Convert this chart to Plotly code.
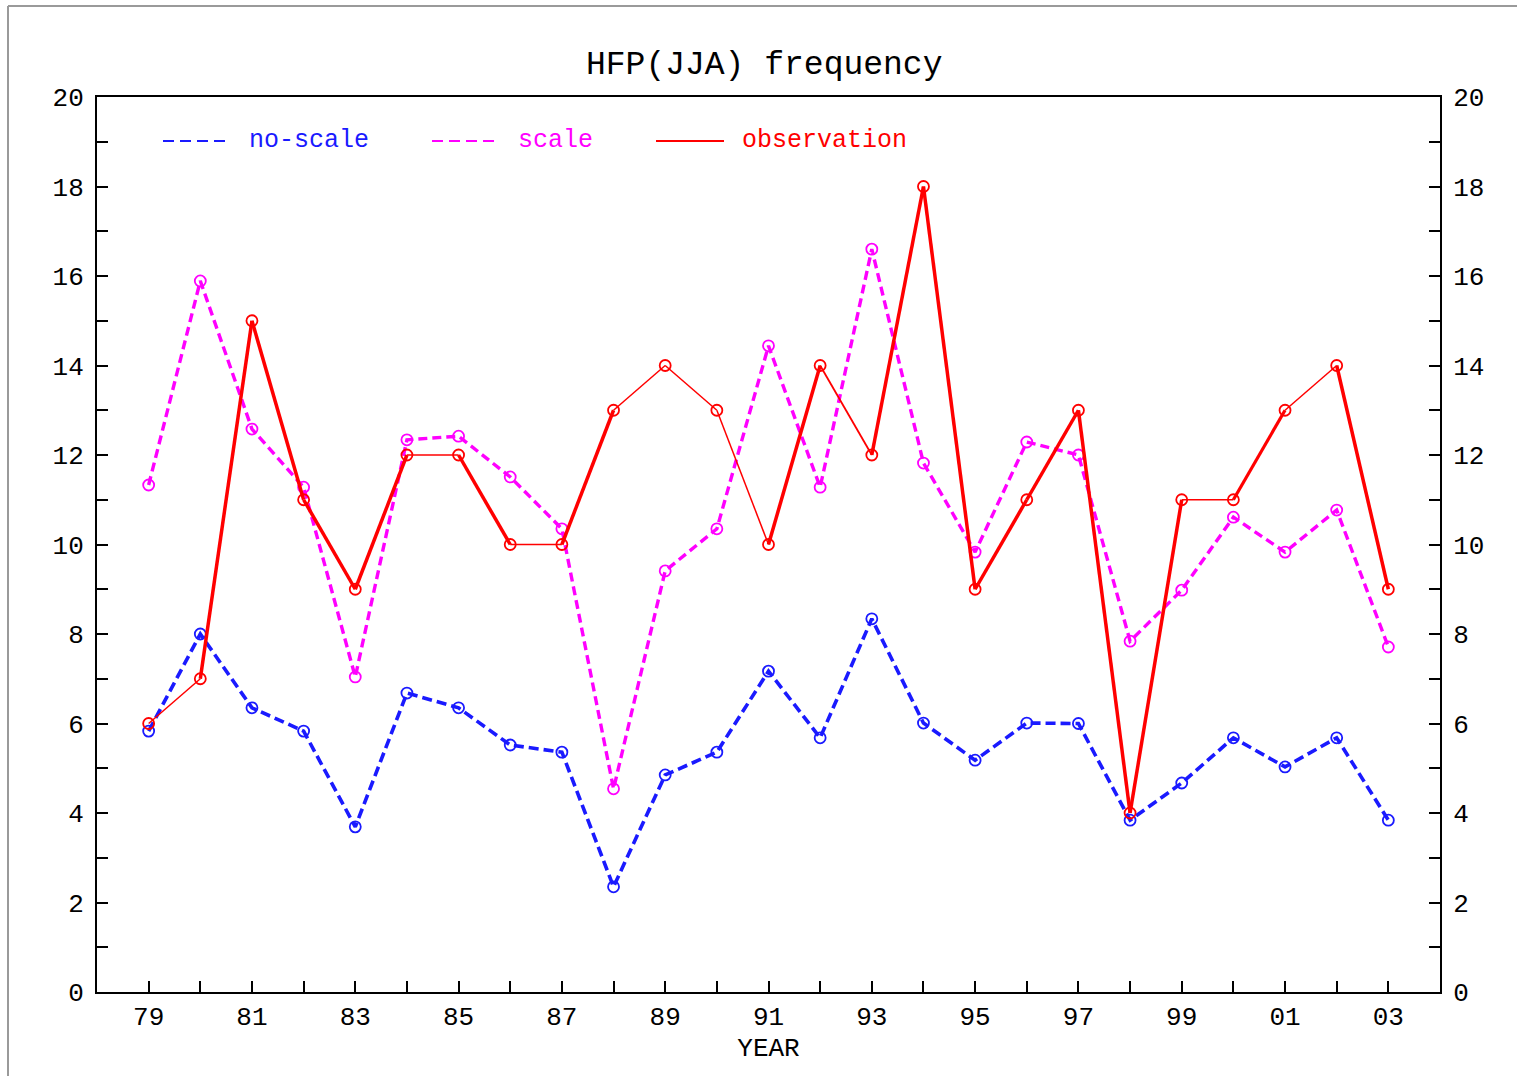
import plotly.graph_objects as go

years = list(range(1979, 2004))
year_labels = ["79", "81", "83", "85", "87", "89", "91", "93", "95", "97", "99", "01", "03"]
label_years = list(range(1979, 2004, 2))

no_scale = [5.83, 8.0, 6.35, 5.83, 3.69, 6.68, 6.35, 5.52, 5.36, 2.35, 4.85, 5.36, 7.17,
            5.68, 8.34, 6.01, 5.18, 6.01, 6.0, 3.84, 4.67, 5.68, 5.03, 5.68, 3.84]
scale = [11.33, 15.89, 12.58, 11.28, 7.04, 12.34, 12.42, 11.51, 10.35, 4.54, 9.41, 10.35, 14.44,
         11.28, 16.6, 11.82, 9.83, 12.29, 12.0, 7.84, 8.98, 10.61, 9.83, 10.77, 7.71]
observation = [6, 7, 15, 11, 9, 12, 12, 10, 10, 13, 14, 13, 10,
               14, 12, 18, 9, 11, 13, 4, 11, 11, 13, 14, 9]

# style: drawn width of each observation segment (thin / thick as in the source plot)
obs_seg_width = [1.5, 3.5, 3.5, 3.5, 3.5, 1.5, 3.5, 1.5, 3.5, 1.5, 1.5, 1.5,
                 3.5, 1.8, 3.5, 3.5, 3.5, 3.5, 3.5, 3.5, 1.5, 3.2, 1.5, 3.5]

BLUE = "#1a1aff"
MAG = "#ff00ff"
RED = "#ff0000"
FONT = "Liberation Mono"

fig = go.Figure()

fig.add_trace(go.Scatter(
    x=years, y=no_scale, mode="lines+markers", showlegend=False,
    line=dict(color=BLUE, width=3.6, dash="10px,5px"),
    marker=dict(symbol="circle-open", size=11, color=BLUE, line=dict(width=1.8, color=BLUE)),
))
fig.add_trace(go.Scatter(
    x=years, y=scale, mode="lines+markers", showlegend=False,
    line=dict(color=MAG, width=3.4, dash="9px,5px"),
    marker=dict(symbol="circle-open", size=11, color=MAG, line=dict(width=1.8, color=MAG)),
))
for i in range(len(years) - 1):
    fig.add_trace(go.Scatter(
        x=years[i:i + 2], y=observation[i:i + 2], mode="lines", showlegend=False,
        line=dict(color=RED, width=obs_seg_width[i]),
    ))
fig.add_trace(go.Scatter(
    x=years, y=observation, mode="markers", showlegend=False,
    marker=dict(symbol="circle-open", size=11, color=RED, line=dict(width=1.8, color=RED)),
))
# invisible trace to anchor the right-hand axis
fig.add_trace(go.Scatter(x=years, y=observation, yaxis="y2", mode="markers",
                         marker=dict(opacity=0), showlegend=False, hoverinfo="skip"))

W, H = 1517, 1076
L, R, T, B = 97, 1440, 97, 992


def px(xp):
    return (xp - L) / (R - L)


def py(yp):
    return (B - yp) / (B - T)


# legend drawn manually (line samples + coloured labels)
legend_items = [
    (163, 230, 247, "no-scale", BLUE, "11px,6px"),
    (432, 500, 516, "scale", MAG, "11px,6px"),
    (656, 724, 740, "observation", RED, "solid"),
]
shapes = []
annotations = []
for x0, x1, xt, txt, col, dash in legend_items:
    shapes.append(dict(type="line", xref="paper", yref="paper",
                       x0=px(x0), x1=px(x1), y0=py(141), y1=py(141),
                       line=dict(color=col, width=2, dash=dash)))
    annotations.append(dict(xref="paper", yref="paper", x=px(xt), y=py(141),
                            xanchor="left", yanchor="middle", showarrow=False,
                            text=txt, font=dict(family=FONT, size=25, color=col)))

# outer grey frame (left and top edges)
shapes.append(dict(type="line", xref="paper", yref="paper",
                   x0=px(8), x1=px(8), y0=py(6), y1=py(1076),
                   line=dict(color="#9a9a9a", width=2)))
shapes.append(dict(type="line", xref="paper", yref="paper",
                   x0=px(8), x1=px(1517), y0=py(6), y1=py(6),
                   line=dict(color="#9a9a9a", width=2)))

annotations.append(dict(xref="paper", yref="paper", x=px(764), y=py(65),
                        xanchor="center", yanchor="middle", showarrow=False,
                        text="HFP(JJA) frequency",
                        font=dict(family=FONT, size=33, color="#000000")))

fig.update_layout(
    width=W, height=H,
    margin=dict(l=L, r=W - R, t=T, b=H - B, pad=0),
    paper_bgcolor="white", plot_bgcolor="white",
    showlegend=False,
    font=dict(family=FONT, size=26, color="#000000"),
    xaxis=dict(
        range=[1978, 2004], showgrid=False, zeroline=False,
        showline=True, linecolor="#000000", linewidth=2, mirror=True,
        ticks="inside", ticklen=11, tickwidth=2, tickcolor="#000000",
        tickmode="array", tickvals=label_years, ticktext=year_labels,
        minor=dict(tickmode="array", tickvals=years, ticks="inside", ticklen=11,
                   tickwidth=2, tickcolor="#000000"),
        tickfont=dict(family=FONT, size=26),
        title=dict(text="YEAR", font=dict(family=FONT, size=26), standoff=6),
    ),
    yaxis=dict(
        range=[0, 20], showgrid=False, zeroline=False,
        showline=True, linecolor="#000000", linewidth=2,
        ticks="inside", ticklen=11, tickwidth=2, tickcolor="#000000",
        tickmode="linear", tick0=0, dtick=2,
        minor=dict(dtick=1, ticks="inside", ticklen=11, tickwidth=2, tickcolor="#000000"),
        tickfont=dict(family=FONT, size=26), ticklabelstandoff=6,
    ),
    yaxis2=dict(
        range=[0, 20], overlaying="y", side="right", showgrid=False, zeroline=False,
        showline=True, linecolor="#000000", linewidth=2,
        ticks="inside", ticklen=11, tickwidth=2, tickcolor="#000000",
        tickmode="linear", tick0=0, dtick=2,
        minor=dict(dtick=1, ticks="inside", ticklen=11, tickwidth=2, tickcolor="#000000"),
        tickfont=dict(family=FONT, size=26), ticklabelstandoff=6,
    ),
    shapes=shapes,
    annotations=annotations,
)

fig.write_html("out.html")
